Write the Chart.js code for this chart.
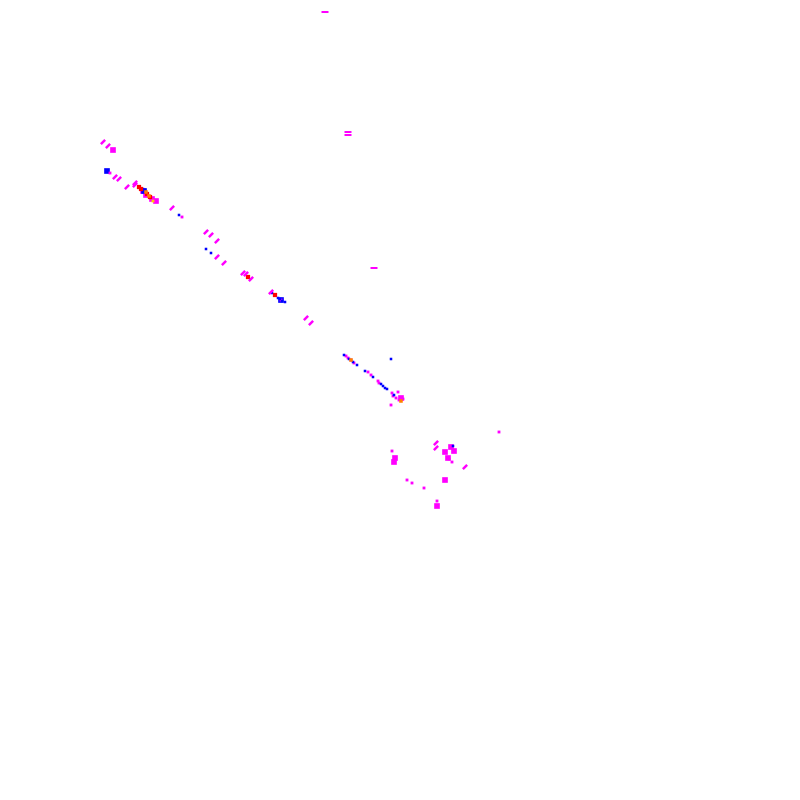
<!DOCTYPE html>
<html>
<head>
<meta charset="utf-8">
<script src="https://cdn.jsdelivr.net/npm/chart.js@4/dist/chart.umd.min.js"></script>
<style>
  html, body { margin: 0; padding: 0; background: #fff; }
  #wrap { width: 800px; height: 800px; }
</style>
</head>
<body>
<div id="wrap"><canvas id="scatterChart" width="800" height="800"></canvas></div>
<script>
// values (x, y in plot units 0..800, y downwards)
var slashX = [103, 108, 115, 119, 127, 135, 135, 172, 206, 211, 217, 217, 224, 243, 246, 251, 271, 306, 311, 436, 436, 465];
var slashY = [142, 146, 177, 179, 187, 183, 185, 208, 232, 235, 241, 257, 263, 273, 274, 279, 292, 318, 323, 443, 448, 467];

var blobX = [110, 182, 281, 346, 348, 351, 354, 368, 371, 378, 379, 392, 398, 393, 396, 399, 403, 391, 392, 449, 452, 499, 407, 412, 424, 437];
var blobY = [173, 217, 300, 356, 358, 360, 363, 372, 375, 381, 383, 393, 392, 396, 398, 400, 399, 405, 451, 459, 462, 432, 480, 483, 488, 501];

var bigBlobX = [113, 143, 146, 152, 156, 395, 394, 451, 454, 445, 448, 445, 437, 401];
var bigBlobY = [150, 191, 195, 199, 201, 458, 462, 447, 451, 452, 458, 480, 506, 398];

var blueX = [143, 179, 206, 211, 272, 278, 280, 282, 285, 344, 349, 353, 357, 391, 365, 373, 381, 383, 385, 387, 394, 453];
var blueY = [189, 215, 249, 253, 293, 298, 299, 301, 302, 355, 359, 362, 365, 359, 371, 377, 384, 386, 388, 389, 395, 446];

var bigBlueX = [107, 144, 281];
var bigBlueY = [171, 191, 300];

var redX = [139, 141, 147, 150, 248, 275];
var redY = [187, 189, 194, 197, 277, 295];

var orangeX = [146, 149, 351, 401];
var orangeY = [192, 196, 360, 401];

var yellowX = [153];
var yellowY = [201];

var dashX = [325, 348, 348, 374];
var dashY = [12, 132, 135, 268];

function pts(xs, ys) {
  return xs.map(function (x, i) { return { x: x, y: ys[i] }; });
}

function rectSet(label, xs, ys, color, radius) {
  return {
    label: label,
    data: pts(xs, ys),
    pointStyle: "rect",
    pointRadius: radius,
    borderWidth: 0,
    backgroundColor: color,
  };
}

// first dataset ends up on top
var scatterCtx = document.getElementById("scatterChart").getContext("2d");
var scatterChart = new Chart(scatterCtx, {
  type: "scatter",
  data: {
    datasets: [
      {
        label: "slash",
        data: pts(slashX, slashY),
        pointStyle: "line",
        rotation: -45,
        pointRadius: 3,
        borderWidth: 2.5,
        borderColor: "#ff00ff",
        backgroundColor: "#ff00ff",
      },
      rectSet("yellow", yellowX, yellowY, "#ffcc00", 2),
      rectSet("orange", orangeX, orangeY, "#ff8000", 2.5),
      rectSet("red", redX, redY, "#ff0000", 3),
      rectSet("blue", blueX, blueY, "#0000ff", 1.8),
      rectSet("blob", blobX, blobY, "#ff00ff", 2),
      rectSet("bigBlue", bigBlueX, bigBlueY, "#0000ff", 4),
      rectSet("bigBlob", bigBlobX, bigBlobY, "#ff00ff", 4),
      {
        label: "dash",
        data: pts(dashX, dashY),
        pointStyle: "line",
        rotation: 0,
        pointRadius: 3.5,
        borderWidth: 2,
        borderColor: "#ff00ff",
        backgroundColor: "#ff00ff",
      },
    ],
  },
  options: {
    responsive: false,
    animation: false,
    layout: { padding: 0, autoPadding: false },
    plugins: {
      legend: { display: false },
      tooltip: { enabled: false },
    },
    scales: {
      x: { type: "linear", min: 0, max: 800, display: false },
      y: { type: "linear", min: 0, max: 800, reverse: true, display: false },
    },
  },
});
</script>
</body>
</html>
